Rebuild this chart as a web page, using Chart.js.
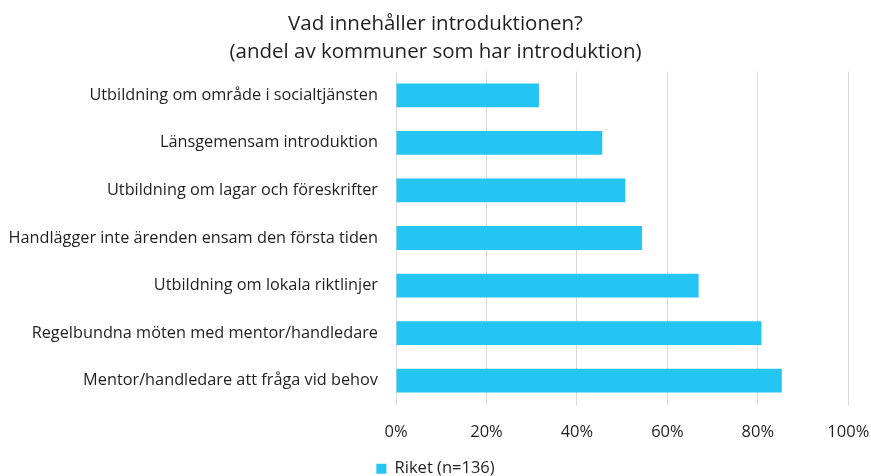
<!DOCTYPE html>
<html>
<head>
<meta charset="utf-8">
<script src="https://cdn.jsdelivr.net/npm/chart.js@4"></script>
<style>
  html, body { margin: 0; padding: 0; background: #fff; }
  #wrap { width: 871px; height: 476px; }
</style>
</head>
<body>
<div id="wrap"><canvas id="chart"></canvas></div>
<script>
const titleLines = ['Vad innehåller introduktionen?', '(andel av kommuner som har introduktion)'];
const categories = [
  'Utbildning om område i socialtjänsten',
  'Länsgemensam introduktion',
  'Utbildning om lagar och föreskrifter',
  'Handlägger inte ärenden ensam den första tiden',
  'Utbildning om lokala riktlinjer',
  'Regelbundna möten med mentor/handledare',
  'Mentor/handledare att fråga vid behov'
];
const seriesLabel = 'Riket (n=136)';
const values = [31.6, 45.6, 50.7, 54.4, 66.9, 80.8, 85.3];
const xTicks = [0, 20, 40, 60, 80, 100];

const FONT = "'Open Sans', sans-serif";
const TEXT = '#1f1f1f';

new Chart(document.getElementById('chart'), {
  type: 'bar',
  data: {
    labels: categories,
    datasets: [{
      label: seriesLabel,
      data: values,
      backgroundColor: '#24C4F3',
      barPercentage: 0.5,
      categoryPercentage: 1.0
    }]
  },
  options: {
    indexAxis: 'y',
    responsive: true,
    maintainAspectRatio: false,
    animation: false,
    layout: { padding: { left: 0, right: 0, top: 0, bottom: -11 } },
    scales: {
      x: {
        min: 0,
        max: 100,
        afterBuildTicks: (scale) => { scale.ticks = xTicks.map((v) => ({ value: v })); },
        afterFit: (scale) => {
          scale.height = 50;
          scale.paddingLeft = 0;
          scale.paddingRight = 22.7;
        },
        grid: { color: '#d9d9d9', lineWidth: 1, drawTicks: false },
        border: { display: false },
        ticks: {
          padding: 17.5,
          color: TEXT,
          font: { family: FONT, size: 16.5 },
          callback: (v) => v + '%'
        }
      },
      y: {
        afterFit: (scale) => { scale.width = 396; },
        grid: { display: false, drawTicks: false },
        border: { display: false },
        ticks: {
          padding: 18,
          color: TEXT,
          font: { family: FONT, size: 16.3 }
        }
      }
    },
    plugins: {
      title: {
        display: true,
        text: titleLines,
        color: TEXT,
        font: { family: FONT, size: 20.5, weight: 'normal', lineHeight: 1.366 },
        padding: { top: 10, bottom: 5.5 }
      },
      legend: {
        position: 'bottom',
        labels: {
          color: TEXT,
          font: { family: FONT, size: 16.5 },
          boxWidth: 10,
          boxHeight: 10,
          padding: 6
        }
      },
      tooltip: { enabled: false }
    }
  }
});
</script>
</body>
</html>
